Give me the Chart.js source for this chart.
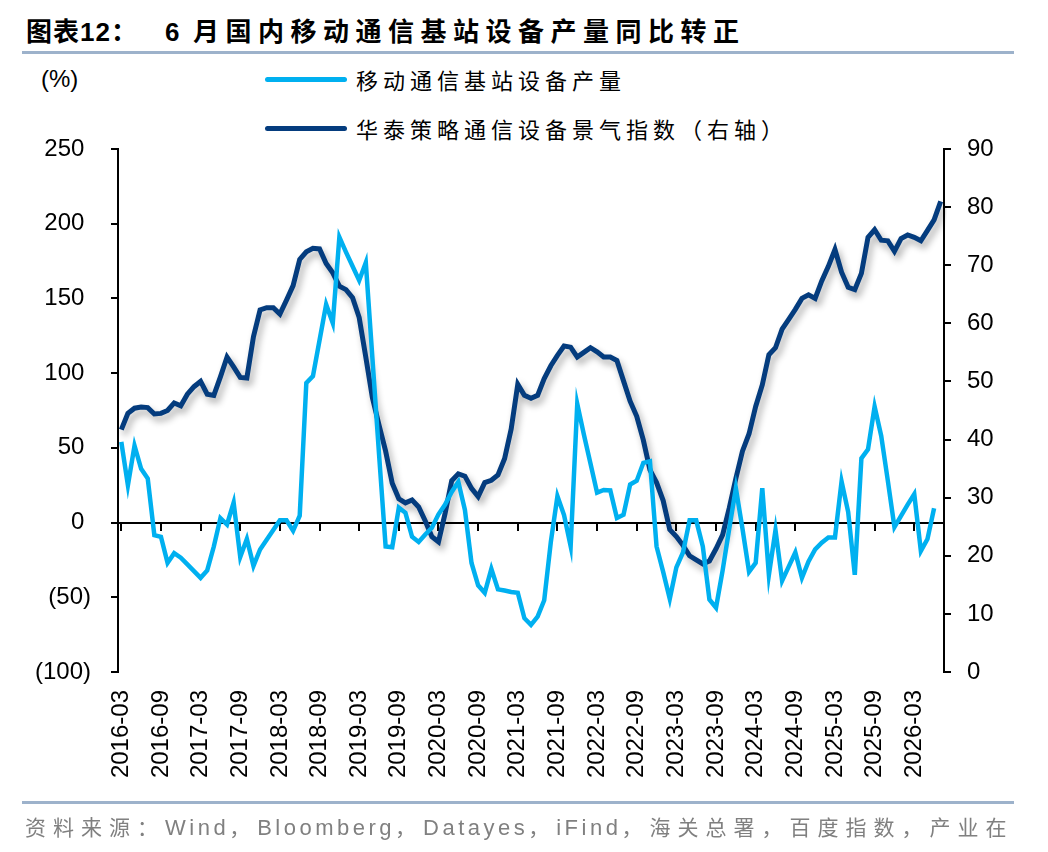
<!DOCTYPE html>
<html>
<head>
<meta charset="utf-8">
<script src="https://cdn.jsdelivr.net/npm/chart.js@4.4.1/dist/chart.umd.min.js"></script>
<style>
  body { margin: 0; width: 1048px; height: 852px; background: #fff; position: relative; overflow: hidden;
         font-family: "Liberation Sans", Arial, "Noto Sans CJK SC", sans-serif; }
  .abs { position: absolute; white-space: nowrap; }
  .title { font: bold 26px "Liberation Sans", "Noto Sans CJK SC"; color: #000; top: 16px; line-height: 32px; }
  .rule { position: absolute; left: 22px; width: 992px; height: 3px; background: #9db2cb; }
  .unit { font: 24px "Liberation Sans"; left: 41px; top: 65px; color: #000; }
  .leg-line { position: absolute; left: 265px; width: 82px; height: 5px; border-radius: 3px; }
  .leg-text { left: 356px; font: 22px "Noto Sans CJK SC"; letter-spacing: 5px; color: #000; }
  .foot { left: 25px; top: 811px; font: 22px "Liberation Sans", "Noto Sans CJK SC"; color: #808080; letter-spacing: 3.5px; }
  .foot .c { font-family: "Noto Sans CJK SC"; letter-spacing: 7px; font-size: 21px; }
  #wrap { position: absolute; left: 0; top: 0; width: 1048px; height: 852px; }
</style>
</head>
<body>
<div class="abs title" style="left:26px;letter-spacing:1px">图表12：</div>
<div class="abs title" style="left:165px">6</div>
<div class="abs title" style="left:193px;letter-spacing:6.5px">月国内移动通信基站设备产量同比转正</div>
<div class="rule" style="top:51px"></div>
<div class="abs unit">(%)</div>
<div id="legend"></div>
<div id="wrap"><canvas id="c"></canvas></div>
<div class="rule" style="top:801px"></div>
<div class="abs foot"><span class="c">资料来源：</span>Wind<span class="c">，</span>Bloomberg<span class="c">，</span>Datayes<span class="c">，</span>iFind<span class="c">，海关总署，百度指数，产业在</span></div>

<script>
// 月份：2016-03 到 2026-07
const startYear = 2016;
const startMonth = 3;
const monthCount = 125;
const months = [];
for (let i = 0; i < monthCount; i++) {
  const k = startMonth - 1 + i;
  months.push(`${startYear + Math.floor(k / 12)}-${String(k % 12 + 1).padStart(2, '0')}`);
}
// 横轴只标注 3 月和 9 月
const tickMonths = ['03', '09'];

const seriesNames = ['移动通信基站设备产量', '华泰策略通信设备景气指数（右轴）'];
const seriesColors = ['#00B0F0', '#043C7E'];

// 移动通信基站设备产量同比 (%)，左轴
const stationOutput = [
  54, 25, 51.5, 36, 29.5, -8.5, -9.5, -27, -20.5, -23.5,
  -28, -32.5, -37, -32, -16, 3, -1.3, 13.3, -23, -11,
  -29, -18, -11.5, -5, 1.5, 1.5, -5.5, 4.6, 93.5, 98,
  122, 146, 133.5, 191, 181, 171.5, 162, 174, 110, 46,
  -16, -16.5, 10, 6.5, -9.5, -13, -8, -3.5, 5.5, 12,
  20.5, 27.3, 8.5, -27, -42, -47, -31, -44.7, -45.5, -46.5,
  -47, -64, -68.5, -63, -52, -13, 17.6, 5, -15.8, 79.5,
  59, 39.5, 20, 21.8, 21.5, 3, 5.2, 25.5, 28, 40,
  41, -16, -33, -51, -30, -20, 1.5, 1.5, -16, -51.5,
  -57, -32, -4, 23, -4, -33, -27, 23, -35, -5,
  -39, -29.5, -20, -37, -26, -18, -13.5, -10, -10, 27.5,
  7, -35, 43, 49, 77.6, 58, 28, -3, 4.5, 12,
  19, -19, -11, 9.6
];

// 华泰策略通信设备景气指数，右轴
const sentimentIndex = [
  41.7, 44.5, 45.4, 45.6, 45.5, 44.4, 44.5, 45.0, 46.3, 45.8,
  47.8, 49.1, 50.0, 47.8, 47.6, 50.8, 54.2, 52.5, 50.7, 50.6,
  57.7, 62.3, 62.7, 62.7, 61.6, 64.0, 66.5, 71.0, 72.3, 72.9,
  72.8, 70.3, 68.7, 66.4, 65.8, 64.4, 61.0, 54.2, 47.2, 42.5,
  38.0, 32.5, 29.8, 29.1, 29.6, 28.4, 26.0, 23.3, 22.4, 27.3,
  32.9, 34.1, 33.7, 31.6, 30.2, 32.6, 33.0, 33.9, 36.7, 41.8,
  49.5, 47.6, 47.1, 47.6, 50.5, 52.7, 54.5, 56.1, 55.9, 54.2,
  55.0, 55.8, 55.1, 54.2, 54.2, 53.6, 50.1, 46.6, 44.0, 39.9,
  34.8, 32.6, 29.5, 24.5, 23.3, 21.8, 20.0, 19.3, 18.6, 19.1,
  21.2, 23.6, 28.2, 33.3, 38.0, 41.0, 45.7, 49.4, 54.6, 55.8,
  59.0, 60.7, 62.4, 64.3, 64.9, 64.3, 67.3, 69.8, 72.7, 68.8,
  66.2, 65.8, 68.6, 74.8, 76.1, 74.3, 74.2, 72.4, 74.6, 75.2,
  74.8, 74.2, 76.0, 77.8, 81.0
];

// 图例（HTML）
const legendEl = document.getElementById('legend');
const legendTops = [79, 128];
seriesNames.forEach((name, i) => {
  const line = document.createElement('div');
  line.className = 'leg-line';
  line.style.top = (legendTops[i] - 2) + 'px';
  line.style.background = seriesColors[i];
  legendEl.appendChild(line);
  const txt = document.createElement('div');
  txt.className = 'abs leg-text';
  txt.style.top = (legendTops[i] - 16) + 'px';
  txt.textContent = name;
  legendEl.appendChild(txt);
});

const keepHalfYearTicks = axis => {
  axis.ticks = axis.ticks.filter(t => tickMonths.includes(months[t.value].slice(5)));
};

// 景气指数线下的阴影
const lineShadow = {
  id: 'lineShadow',
  beforeDatasetDraw(chart, args) {
    if (args.index !== 1) return;
    const ctx = chart.ctx;
    ctx.save();
    ctx.shadowColor = 'rgba(0,0,0,0.32)';
    ctx.shadowBlur = 7;
    ctx.shadowOffsetX = 3;
    ctx.shadowOffsetY = 5;
  },
  afterDatasetDraw(chart, args) {
    if (args.index === 1) chart.ctx.restore();
  }
};

const tickFont = { family: 'Liberation Sans', size: 24 };

new Chart(document.getElementById('c'), {
  type: 'line',
  data: {
    labels: months,
    datasets: [
      {
        label: seriesNames[0],
        data: stationOutput,
        borderColor: seriesColors[0],
        borderWidth: 4.5,
        pointRadius: 0,
        tension: 0,
        yAxisID: 'y',
        xAxisID: 'x'
      },
      {
        label: seriesNames[1],
        data: sentimentIndex,
        borderColor: seriesColors[1],
        borderWidth: 5,
        pointRadius: 0,
        tension: 0,
        yAxisID: 'y1',
        xAxisID: 'x'
      }
    ]
  },
  options: {
    responsive: true,
    maintainAspectRatio: false,
    animation: false,
    layout: { padding: { top: 149, right: 0, bottom: 55, left: 0 } },
    plugins: { legend: { display: false }, tooltip: { enabled: false } },
    scales: {
      x: {
        type: 'category',
        position: 'bottom',
        offset: true,
        border: { display: false },
        grid: { display: false, drawTicks: false, offset: false },
        ticks: {
          autoSkip: false,
          minRotation: 90,
          maxRotation: 90,
          padding: 18,
          color: '#000',
          font: tickFont,
          callback: v => months[v]
        },
        afterBuildTicks: keepHalfYearTicks,
        afterFit: a => { a.height = 125; }
      },
      xZero: {
        type: 'category',
        position: { y: 0 },
        offset: true,
        border: { display: true, color: '#000', width: 2 },
        grid: { offset: false, drawOnChartArea: false, drawTicks: true, tickLength: 7, color: '#000', lineWidth: 2 },
        ticks: { display: false, autoSkip: false },
        afterBuildTicks: keepHalfYearTicks
      },
      y: {
        position: 'left',
        min: -100,
        max: 250,
        border: { color: '#000', width: 2 },
        grid: { drawOnChartArea: false, tickLength: 7, color: '#000', lineWidth: 2 },
        ticks: {
          stepSize: 50,
          padding: 20,
          color: '#000',
          font: tickFont,
          callback: v => v < 0 ? `(${-v})` : `${v} `
        },
        afterFit: a => { a.width = 118; }
      },
      y1: {
        position: 'right',
        min: 0,
        max: 90,
        border: { color: '#000', width: 2 },
        grid: { drawOnChartArea: false, tickLength: 7, color: '#000', lineWidth: 2 },
        ticks: { stepSize: 10, padding: 16, color: '#000', font: tickFont },
        afterFit: a => { a.width = 104; }
      }
    }
  },
  plugins: [lineShadow]
});
</script>
</body>
</html>
